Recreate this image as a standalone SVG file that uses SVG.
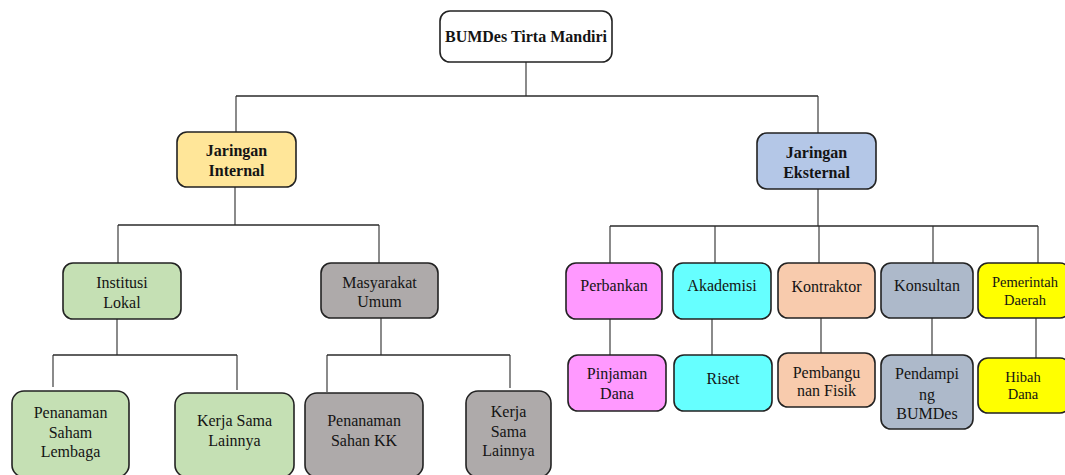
<svg xmlns="http://www.w3.org/2000/svg" width="1065" height="475" viewBox="0 0 1065 475">
<style>
.n{stroke:#222;stroke-width:1.6}
.t{font-family:"Liberation Serif","Times New Roman",serif;font-size:16px;fill:#141414;text-anchor:middle}
.b{font-weight:bold}
.s{font-size:14.5px}
.c{fill:none;stroke:#5a5a5a;stroke-width:1.4}
.h{fill:none;stroke:#2a2a2a;stroke-width:1.3}
</style>
<rect width="1065" height="475" fill="#fff"/>
<g id="connectors">
<path class="c" d="M526 62V96M236 96V132M818 96V133"/>
<path class="h" d="M236 96H818"/>
<path class="c" d="M235 187V225M118 225V263M379 225V263"/>
<path class="h" d="M118 225H379"/>
<path class="c" d="M117 319V355M53 355V387M237 355V390"/>
<path class="h" d="M53 355H237"/>
<path class="c" d="M381 318V355M327 355V392M510 355V388"/>
<path class="h" d="M327 355H510"/>
<path class="c" d="M818 189V226M610 226V263M715 226V263M819 226V263M933 226V263M1038 226V263"/>
<path class="h" d="M610 226H1038"/>
<path class="c" d="M610 319V355M712 319V355M821 318V353M932 318V355M1036 318V358"/>
</g>
<g id="root"><rect class="n" x="440" y="11" width="172" height="51" rx="10" fill="#fff"/><text class="t b" x="526" y="42" font-size="15">BUMDes Tirta Mandiri</text></g>
<g id="jaringan-internal"><rect class="n" x="177" y="132" width="119" height="55" rx="10" fill="#FFE699"/><text class="t b" x="236.5" y="155.5">Jaringan</text><text class="t b" x="236.5" y="175.5">Internal</text></g>
<g id="jaringan-eksternal"><rect class="n" x="757" y="133" width="119" height="56" rx="10" fill="#B4C7E7"/><text class="t b" x="816.5" y="157.5">Jaringan</text><text class="t b" x="816.5" y="177.5">Eksternal</text></g>
<g id="institusi-lokal"><rect class="n" x="63" y="263" width="118" height="56" rx="10" fill="#C5E0B4"/><text class="t" x="122" y="287.5">Institusi</text><text class="t" x="122" y="307.5">Lokal</text></g>
<g id="masyarakat-umum"><rect class="n" x="321" y="263" width="117" height="55" rx="10" fill="#AEAAAA"/><text class="t" x="379.5" y="287.5">Masyarakat</text><text class="t" x="379.5" y="306.5">Umum</text></g>
<g id="penanaman-saham-lembaga"><rect class="n" x="12" y="391" width="117" height="86" rx="12" fill="#C5E0B4"/><text class="t" x="70.5" y="417.5">Penanaman</text><text class="t" x="70.5" y="437.5">Saham</text><text class="t" x="70.5" y="456.5">Lembaga</text></g>
<g id="kerja-sama-lainnya-1"><rect class="n" x="175" y="393" width="119" height="84" rx="12" fill="#C5E0B4"/><text class="t" x="234.5" y="425.5">Kerja Sama</text><text class="t" x="234.5" y="445.5">Lainnya</text></g>
<g id="penanaman-sahan-kk"><rect class="n" x="305" y="393" width="118" height="84" rx="12" fill="#AEAAAA"/><text class="t" x="364" y="425.5">Penanaman</text><text class="t" x="364" y="445.5">Sahan KK</text></g>
<g id="kerja-sama-lainnya-2"><rect class="n" x="466" y="391" width="85" height="86" rx="12" fill="#AEAAAA"/><text class="t" x="508.5" y="416.5">Kerja</text><text class="t" x="508.5" y="436.5">Sama</text><text class="t" x="508.5" y="455.5">Lainnya</text></g>
<g id="perbankan"><rect class="n" x="566" y="263" width="96" height="56" rx="10" fill="#FF99FF"/><text class="t" x="614" y="290.5">Perbankan</text></g>
<g id="akademisi"><rect class="n" x="673" y="263" width="98" height="56" rx="10" fill="#66FFFF"/><text class="t" x="722" y="290.5">Akademisi</text></g>
<g id="kontraktor"><rect class="n" x="778" y="263" width="97" height="55" rx="10" fill="#F8CBAD"/><text class="t" x="826.5" y="291.5">Kontraktor</text></g>
<g id="konsultan"><rect class="n" x="881" y="263" width="92" height="55" rx="10" fill="#ADB9CA"/><text class="t" x="927" y="290.5">Konsultan</text></g>
<g id="pemerintah-daerah"><rect class="n" x="978" y="263" width="92" height="55" rx="10" fill="#FFFF00"/><text class="t s" x="1025" y="287">Pemerintah</text><text class="t s" x="1025" y="305">Daerah</text></g>
<g id="pinjaman-dana"><rect class="n" x="568" y="355" width="98" height="56" rx="10" fill="#FF99FF"/><text class="t" x="617" y="378.5">Pinjaman</text><text class="t" x="617" y="398.5">Dana</text></g>
<g id="riset"><rect class="n" x="674" y="355" width="98" height="56" rx="10" fill="#66FFFF"/><text class="t" x="723" y="383.5">Riset</text></g>
<g id="pembangunan-fisik"><rect class="n" x="778" y="353" width="97" height="54" rx="10" fill="#F8CBAD"/><text class="t" x="826.5" y="377.5">Pembangu</text><text class="t" x="826.5" y="395.5">nan Fisik</text></g>
<g id="pendamping-bumdes"><rect class="n" x="881" y="355" width="92" height="74" rx="10" fill="#ADB9CA"/><text class="t" x="927" y="378.5">Pendampi</text><text class="t" x="927" y="399.5">ng</text><text class="t" x="927" y="418.5">BUMDes</text></g>
<g id="hibah-dana"><rect class="n" x="978" y="358" width="92" height="55" rx="10" fill="#FFFF00"/><text class="t s" x="1023" y="382">Hibah</text><text class="t s" x="1023" y="399">Dana</text></g>
</svg>
